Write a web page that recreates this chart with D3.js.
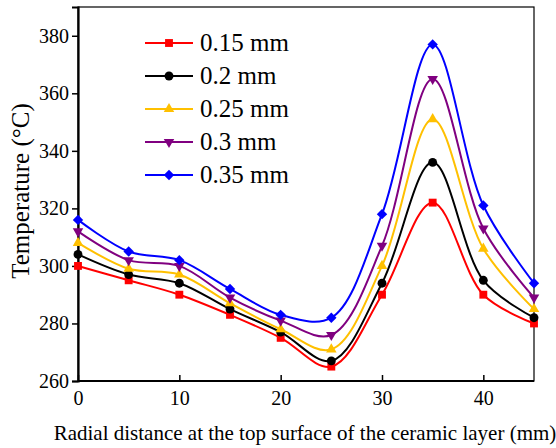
<!DOCTYPE html>
<html>
<head>
<meta charset="utf-8">
<script src="https://cdn.jsdelivr.net/npm/d3@7"></script>
<style>
  body { margin: 0; background: #fff; }
  svg { display: block; }
</style>
</head>
<body>
<svg id="chart" width="556" height="448"></svg>
<script>
// data
let distances = [0, 5, 10, 15, 20, 25, 30, 35, 40, 45]
let seriesNames = ['0.15 mm', '0.2 mm', '0.25 mm', '0.3 mm', '0.35 mm']
let t015 = [300, 295, 290, 283, 275, 265, 290, 322, 290, 280]
let t020 = [304, 297, 294, 285, 277, 267, 294, 336, 295, 282]
let t025 = [308, 299, 297, 287, 278, 271, 300, 351, 306, 285]
let t030 = [312, 302, 300, 289, 281, 276, 307, 365, 313, 289]
let t035 = [316, 305, 302, 292, 283, 282, 318, 377, 321, 294]
let xTicks = [0, 10, 20, 30, 40]
let yTicks = [260, 280, 300, 320, 340, 360, 380]

let colors = ['#ff0000', '#000000', '#ffc000', '#800080', '#0000ff']
// symbol type, extra rotation, size
let shapes = [
    [d3.symbolSquare, 0, 62],
    [d3.symbolCircle, 0, 62],
    [d3.symbolTriangle, 0, 48],
    [d3.symbolTriangle, 180, 48],
    [d3.symbolSquare, 45, 54]
]
let allSeries = [t015, t020, t025, t030, t035]

let serif = '"Liberation Serif", "Times New Roman", serif'
let svg = d3.select('#chart')
let mLeft = 78, mRight = 534, mTop = 7, mBottom = 381

let x = d3.scaleLinear().domain([0, 45]).range([mLeft, mRight])
let y = d3.scaleLinear().domain([260, 390]).range([mBottom, mTop])

// frame
svg.append('rect')
    .attr('x', mLeft).attr('y', mTop)
    .attr('width', mRight - mLeft).attr('height', mBottom - mTop)
    .attr('fill', 'none').attr('stroke', '#000').attr('stroke-width', 1.2)

// axes
let xAxis = svg.append('g')
    .attr('transform', `translate(0,${mBottom})`)
    .call(d3.axisBottom(x).tickValues(xTicks).tickSizeInner(-6).tickSizeOuter(0).tickPadding(10))
let yAxis = svg.append('g')
    .attr('transform', `translate(${mLeft},0)`)
    .call(d3.axisLeft(y).tickValues(yTicks).tickSize(6).tickPadding(3))

for (let g of [xAxis, yAxis]) {
    g.attr('font-family', null).attr('font-size', null)
    g.select('.domain').attr('stroke-width', 2.2)
    g.selectAll('.tick line').attr('stroke-width', 1.5)
    g.selectAll('.tick text')
        .style('font-family', serif)
        .style('font-size', '20px')
        .attr('fill', '#000')
}
xAxis.select('.domain').attr('d', `M${mLeft},0H${mRight}`)

// lines
let line = d3.line()
    .x((d, i) => x(distances[i]))
    .y(d => y(d))
    .curve(d3.curveCatmullRom.alpha(0.5))

function marker(k) {
    return d3.symbol().type(shapes[k][0]).size(shapes[k][2])()
}
function rot(k) {
    return shapes[k][1] ? ` rotate(${shapes[k][1]})` : ''
}

allSeries.forEach((vals, k) => {
    svg.append('path')
        .datum(vals)
        .attr('d', line)
        .attr('fill', 'none')
        .attr('stroke', colors[k])
        .attr('stroke-width', 2)

    svg.append('g').selectAll('path')
        .data(vals)
        .join('path')
        .attr('d', marker(k))
        .attr('transform', (d, i) => `translate(${x(distances[i])},${y(d)})` + rot(k))
        .attr('fill', colors[k])
})

// legend
let legend = svg.append('g')
seriesNames.forEach((name, k) => {
    let ly = 43 + k * 33
    legend.append('line')
        .attr('x1', 145).attr('x2', 193)
        .attr('y1', ly).attr('y2', ly)
        .attr('stroke', colors[k]).attr('stroke-width', 2)
    legend.append('path')
        .attr('d', marker(k))
        .attr('transform', `translate(169,${ly})` + rot(k))
        .attr('fill', colors[k])
    legend.append('text')
        .attr('x', 200).attr('y', ly + 8)
        .style('font-family', serif)
        .style('font-size', '25px')
        .text(name)
})

// axis titles
svg.append('text')
    .attr('x', 305).attr('y', 440)
    .attr('text-anchor', 'middle')
    .style('font-family', serif)
    .style('font-size', '21px')
    .text('Radial distance at the top surface of the ceramic layer (mm)')

svg.append('text')
    .attr('transform', `translate(29,191) rotate(-90)`)
    .attr('text-anchor', 'middle')
    .style('font-family', serif)
    .style('font-size', '25px')
    .text('Temperature (°C)')
</script>
</body>
</html>
